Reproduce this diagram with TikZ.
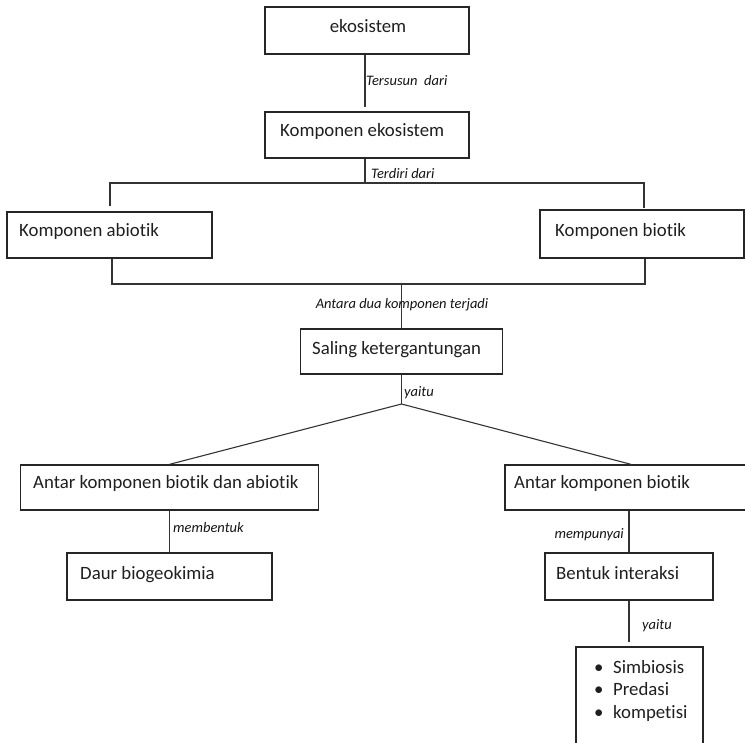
\documentclass[tikz,border=0pt]{standalone}
\usepackage{fontspec}
\setmainfont{Carlito}[Ligatures=NoCommon]
\begin{document}
\begin{tikzpicture}[x=1pt,y=-1pt,
  box/.style={draw=black!85,line width=1.3pt,rectangle,inner sep=0pt},
  txt/.style={inner sep=0pt,anchor=base west,text=black!88,font=\fontsize{18.8}{22}\selectfont},
  lbl/.style={inner sep=0pt,anchor=base west,text=black!92,font=\fontsize{14.5}{17}\selectfont\itshape},
  link/.style={draw=black!80,line width=1.1pt}]
\useasboundingbox (0,0) rectangle (745,743);
\clip (0,0) rectangle (745,743);

% boxes
\node[box,minimum width=204,minimum height=47] (eko) at (367,30.5) {};
\node[box,minimum width=204,minimum height=46] (kompeko) at (367,135) {};
\node[box,minimum width=205,minimum height=46] (abiotik) at (109.5,235) {};
\node[box,minimum width=204,minimum height=48] (biotik) at (642,234) {};
\node[box,minimum width=202,minimum height=45] (saling) at (401.5,351.5) {};
\node[box,minimum width=298,minimum height=45] (antarA) at (169.5,487.5) {};
\node[box,minimum width=252,minimum height=45] (antarB) at (631,487.5) {};
\node[box,minimum width=205,minimum height=47] (daur) at (169.5,576.5) {};
\node[box,minimum width=168,minimum height=47] (bentuk) at (629,576.5) {};
\node[box,minimum width=127,minimum height=123] (daftar) at (639.5,708.5) {};

% box texts
\node[txt,anchor=base] (ekoT) at (368,33) {ekosistem};
\node[txt] (kompekoT) at (280,137) {Komponen ekosistem};
\node[txt] (abiotikT) at (19,237) {Komponen abiotik};
\node[txt] (biotikT) at (555,237) {Komponen biotik};
\node[txt] (salingT) at (312,355) {Saling ketergantungan};
\node[txt] (antarAT) at (33,489) {Antar komponen biotik dan abiotik};
\node[txt] (antarBT) at (514,489) {Antar komponen biotik};
\node[txt] (daurT) at (80,579) {Daur biogeokimia};
\node[txt] (bentukT) at (556,579) {Bentuk interaksi};
\node[txt] (b1) at (594,673) {•};
\node[txt] (i1) at (613,673) {Simbiosis};
\node[txt] (b2) at (594,695) {•};
\node[txt] (i2) at (613,695) {Predasi};
\node[txt] (b3) at (594,718) {•};
\node[txt] (i3) at (613,718) {kompetisi};

% connectors
\coordinate (t1) at (365,107);
\draw[link] (eko.south -| t1) -- (t1);

\coordinate (j1) at (365,183);
\coordinate (jl) at (110,183);
\coordinate (jr) at (644,183);
\draw[link] (kompeko.south -| j1) -- (j1);
\draw[link,shorten <=5pt,shorten >=1pt] (abiotik.north -| jl) -- (jl) -- (jr) -- (biotik.north -| jr);

\coordinate (kl) at (112,284);
\coordinate (kr) at (645,284);
\draw[link] (abiotik.south -| kl) -- (kl) -- (kr) -- (biotik.south -| kr);
\draw[link] (saling.north |- kl) -- (saling.north);

\coordinate (fork) at (401.5,404);
\draw[link] (saling.south) -- (fork);
\draw[link] (antarA.north) -- (fork) -- (antarB.north);

\draw[link] (antarA.south) -- (daur.north);
\draw[link] (antarB.south -| bentuk.north) -- (bentuk.north);
\draw[link,shorten >=4pt] (bentuk.south) -- (bentuk.south |- daftar.north);

% connector labels
\node[lbl] (l1) at (366,86) {Tersusun\ \ dari};
\node[lbl] (l2) at (371,179) {Terdiri dari};
\node[lbl,anchor=base] (l3) at (402,309) {Antara dua komponen terjadi};
\node[lbl] (l4) at (404,397) {yaitu};
\node[lbl] (l5) at (173,532) {membentuk};
\node[lbl,anchor=base east] (l6) at (624,538) {mempunyai};
\node[lbl] (l7) at (642,629) {yaitu};
\end{tikzpicture}
\end{document}
